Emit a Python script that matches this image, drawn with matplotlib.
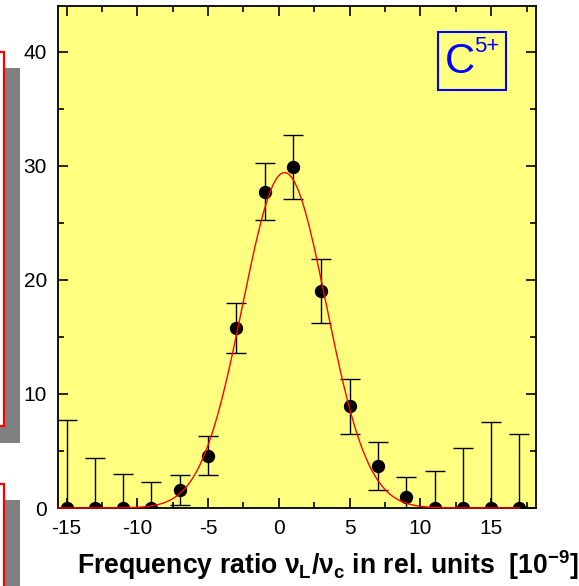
import numpy as np
import matplotlib
matplotlib.use("Agg")
import matplotlib.pyplot as plt
from matplotlib.patches import Rectangle
from matplotlib.ticker import MultipleLocator

plt.rcParams["font.family"] = ["Liberation Sans", "DejaVu Sans"]
plt.rcParams["mathtext.fontset"] = "custom"
plt.rcParams["mathtext.rm"] = "Liberation Sans:bold"
plt.rcParams["mathtext.it"] = "Liberation Sans:bold"
plt.rcParams["mathtext.bf"] = "Liberation Sans:bold"
plt.rcParams["axes.unicode_minus"] = False

# measured points: frequency ratio offset vs counts
freq = [-15, -13, -11, -9, -7, -5, -3, -1, 1, 3, 5, 7, 9, 11, 13, 15, 17]
counts = [0, 0, 0, 0, 1.6, 4.6, 15.8, 27.7, 29.9, 19.0, 8.9, 3.7, 1.0, 0, 0, 0, 0]
errors = [7.7, 4.4, 3.0, 2.3, 1.3, 1.7, 2.2, 2.5, 2.8, 2.8, 2.4, 2.1, 1.7, 3.2, 5.3, 7.5, 6.5]

# gaussian fit parameters
fit_amp = 29.4
fit_center = 0.4
fit_sigma = 2.95

fig = plt.figure(figsize=(5.79, 5.86), dpi=100)

# leftover boxes from the neighbouring panel
fig.patches.append(Rectangle((0, 0.244), 0.0345, 0.640, transform=fig.transFigure,
                             facecolor="#808080", edgecolor="none", zorder=0))
fig.patches.append(Rectangle((-0.05, 0.273), 0.057, 0.638, transform=fig.transFigure,
                             facecolor="white", edgecolor="red", lw=1.6, zorder=1))
fig.patches.append(Rectangle((0, -0.05), 0.0345, 0.197, transform=fig.transFigure,
                             facecolor="#808080", edgecolor="none", zorder=0))
fig.patches.append(Rectangle((-0.05, -0.05), 0.057, 0.224, transform=fig.transFigure,
                             facecolor="white", edgecolor="red", lw=1.6, zorder=1))

ax = fig.add_axes([0.1002, 0.1331, 0.8251, 0.8567])
ax.set_facecolor("#FFFF80")

xs = np.linspace(-15.6, 17.0, 600)
ax.plot(xs, fit_amp * np.exp(-(xs - fit_center) ** 2 / (2 * fit_sigma ** 2)),
        color="red", lw=1.0, zorder=4, clip_on=False)

ax.errorbar(freq, counts, yerr=errors, fmt="o", color="black", ms=8.6,
            ecolor="black", elinewidth=1.0, capsize=7, capthick=1.0, zorder=3)

ax.set_xlim(-15.6, 18.15)
ax.set_ylim(0, 44)
ax.xaxis.set_major_locator(MultipleLocator(5))
ax.xaxis.set_minor_locator(MultipleLocator(2.5))
ax.yaxis.set_major_locator(MultipleLocator(10))
ax.yaxis.set_minor_locator(MultipleLocator(5))
ax.tick_params(which="both", direction="in", top=True, right=True, width=1.2)
ax.tick_params(which="major", length=7, labelsize=15, pad=8)
ax.tick_params(which="minor", length=4.5)
for s in ax.spines.values():
    s.set_linewidth(1.3)

fig.text(0.5657, 0.0205,
         r"Frequency ratio $\nu_{\mathrm{L}}/\nu_{\mathrm{c}}$ in rel. units  [10$^{\mathrm{-9}}$]",
         ha="center", va="baseline", fontsize=19.2, fontweight="bold")

# ion label box
fig.patches.append(Rectangle((0.756, 0.8459), 0.118, 0.100, transform=fig.transFigure,
                             facecolor="none", edgecolor="#0000FF", lw=1.5, zorder=5))
fig.text(0.7685, 0.8749, "C", color="#0000FF", fontsize=30, ha="left", va="baseline")
fig.text(0.8186, 0.9118, "5+", color="#0000FF", fontsize=16, ha="left", va="baseline")

fig.savefig("out.png", dpi=100)
